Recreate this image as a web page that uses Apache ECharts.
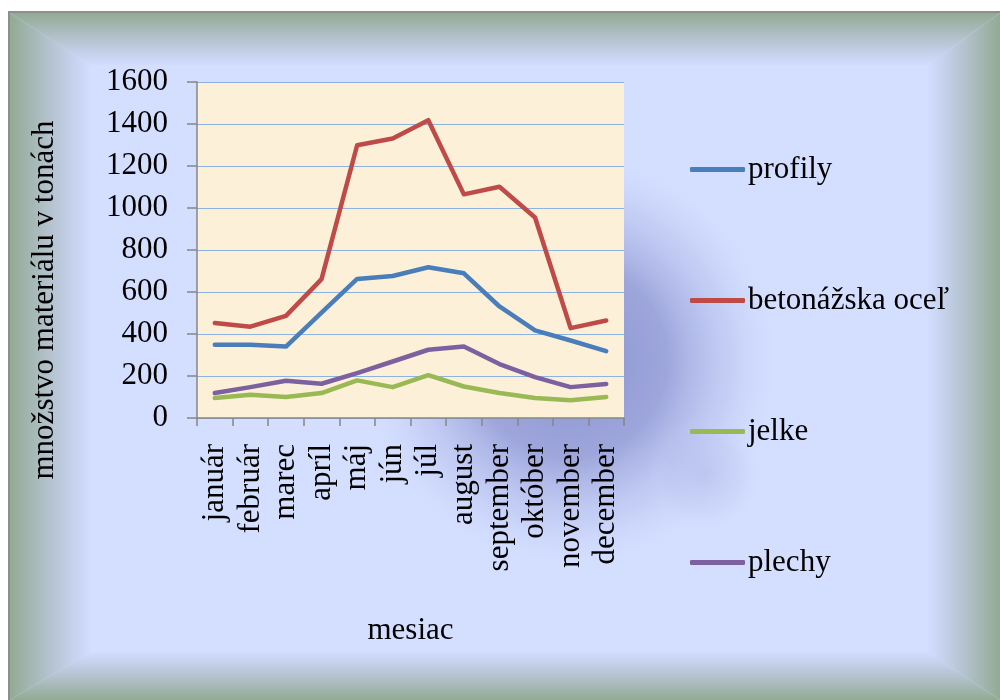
<!DOCTYPE html>
<html>
<head>
<meta charset="utf-8">
<script src="https://cdn.jsdelivr.net/npm/echarts@6/dist/echarts.min.js"></script>
<style>
  html, body { margin: 0; padding: 0; background: #ffffff; }
  #chart { width: 1000px; height: 700px; }
</style>
</head>
<body>
<div id="chart"></div>
<script>
// Monthly material volumes (tonnes)
const months = ['január', 'február', 'marec', 'apríl', 'máj', 'jún', 'júl', 'august', 'september', 'október', 'november', 'december'];
const profily = [349, 349, 340, 502, 662, 676, 718, 689, 531, 417, 369, 318];
const betonazskaOcel = [452, 435, 486, 661, 1299, 1331, 1418, 1065, 1101, 955, 428, 464];
const jelke = [95, 111, 100, 119, 179, 147, 204, 150, 119, 95, 84, 100];
const plechy = [119, 147, 177, 163, 214, 269, 325, 340, 257, 195, 147, 162];

const seriesNames = ['profily', 'betonážska oceľ', 'jelke', 'plechy'];
const seriesColors = ['#4a7ebb', '#be4b48', '#98b954', '#7d60a0'];
const seriesData = [profily, betonazskaOcel, jelke, plechy];

const FONT = "'Liberation Serif', 'Times New Roman', serif";

// Bevelled frame geometry
const L = 10, T = 13, R = 1000, B = 700;
const bl = 80, bt = 52, br = 72, bb = 48;
const bevelStops = [
  { offset: 0, color: '#93aa93' },
  { offset: 0.45, color: '#b1c0c9' },
  { offset: 0.8, color: '#c7d2ee' },
  { offset: 1, color: '#d2dcfd' }
];
function lin(x, y, x2, y2) {
  return { type: 'linear', x: x, y: y, x2: x2, y2: y2, colorStops: bevelStops };
}

const chart = echarts.init(document.getElementById('chart'), null, { renderer: 'canvas' });

chart.setOption({
  animation: false,
  backgroundColor: '#ffffff',
  textStyle: { fontFamily: FONT },
  graphic: [
    // outer grey rim
    { type: 'rect', z: -20, shape: { x: L - 2, y: T - 2, width: R - L + 4, height: B - T + 4 }, style: { fill: '#8e8e8e' } },
    // inner face
    { type: 'rect', z: -19, shape: { x: L, y: T, width: R - L, height: B - T }, style: { fill: '#d4deff' } },
    // soft blue glow behind the plot
    {
      type: 'circle', z: -18,
      shape: { cx: 570, cy: 360, r: 215 },
      style: {
        fill: {
          type: 'radial', x: 0.5, y: 0.5, r: 0.5,
          colorStops: [
            { offset: 0, color: 'rgba(138,146,208,1)' },
            { offset: 0.45, color: 'rgba(148,156,213,0.85)' },
            { offset: 0.75, color: 'rgba(175,185,232,0.4)' },
            { offset: 1, color: 'rgba(212,222,255,0)' }
          ]
        }
      }
    },
    {
      type: 'ellipse', z: -18,
      shape: { cx: 0, cy: 0, rx: 160, ry: 60 },
      x: 705, y: 475, rotation: -Math.PI * 0.22,
      style: {
        fill: {
          type: 'radial', x: 0.5, y: 0.5, r: 0.5,
          colorStops: [
            { offset: 0, color: 'rgba(160,168,222,0.35)' },
            { offset: 0.6, color: 'rgba(175,185,232,0.2)' },
            { offset: 1, color: 'rgba(212,222,255,0)' }
          ]
        }
      }
    },
    // bevel edges
    { type: 'polygon', z: -17, shape: { points: [[L, T], [R, T], [R - br, T + bt], [L + bl, T + bt]] }, style: { fill: lin(0, 0, 0, 1) } },
    { type: 'polygon', z: -17, shape: { points: [[L, T], [L + bl, T + bt], [L + bl, B - bb], [L, B]] }, style: { fill: lin(0, 0, 1, 0) } },
    { type: 'polygon', z: -17, shape: { points: [[R, T], [R, B], [R - br, B - bb], [R - br, T + bt]] }, style: { fill: lin(1, 0, 0, 0) } },
    { type: 'polygon', z: -17, shape: { points: [[L, B], [R, B], [R - br, B - bb], [L + bl, B - bb]] }, style: { fill: lin(0, 1, 0, 0) } },
    // vertical axis title
    {
      type: 'text', z: 10,
      x: 45, y: 300, rotation: Math.PI / 2,
      style: {
        text: 'množstvo materiálu v tonách',
        font: '31px ' + FONT,
        fill: '#000000',
        align: 'center',
        verticalAlign: 'middle'
      }
    }
  ],
  grid: {
    left: 197, top: 82, width: 427, height: 336,
    show: true,
    backgroundColor: '#fcf1d8',
    borderWidth: 0
  },
  legend: {
    orient: 'vertical',
    left: 690,
    top: 154,
    padding: 0,
    itemGap: 100,
    itemWidth: 55,
    itemHeight: 5,
    icon: 'roundRect',
    data: seriesNames,
    textStyle: { fontFamily: FONT, fontSize: 31, color: '#000000', lineHeight: 30, padding: [0, 0, 0, -2] }
  },
  xAxis: {
    type: 'category',
    data: months,
    boundaryGap: true,
    name: 'mesiac',
    nameLocation: 'middle',
    nameGap: 197,
    nameTextStyle: { fontFamily: FONT, fontSize: 31, color: '#000000' },
    axisLine: { show: true, lineStyle: { color: '#868686', width: 1.5 } },
    axisTick: { show: true, length: 8, lineStyle: { color: '#868686', width: 1.5 } },
    axisLabel: {
      rotate: 90, margin: 26, interval: 0,
      fontFamily: FONT, fontSize: 31, color: '#000000'
    },
    splitLine: { show: false }
  },
  yAxis: {
    type: 'value',
    min: 0, max: 1600, interval: 200,
    axisLine: { show: true, lineStyle: { color: '#868686', width: 1.5 } },
    axisTick: { show: true, length: 10, lineStyle: { color: '#868686', width: 1.5 } },
    axisLabel: {
      margin: 29, fontFamily: FONT, fontSize: 31, color: '#000000',
      formatter: function (v) { return String(v); }
    },
    splitLine: { show: true, lineStyle: { color: '#8db3e2', width: 1 } }
  },
  series: seriesNames.map(function (name, i) {
    return {
      name: name,
      type: 'line',
      data: seriesData[i],
      symbol: 'none',
      smooth: false,
      color: seriesColors[i],
      lineStyle: { color: seriesColors[i], width: 4.5, cap: 'round', join: 'round' }
    };
  })
});
</script>
</body>
</html>
